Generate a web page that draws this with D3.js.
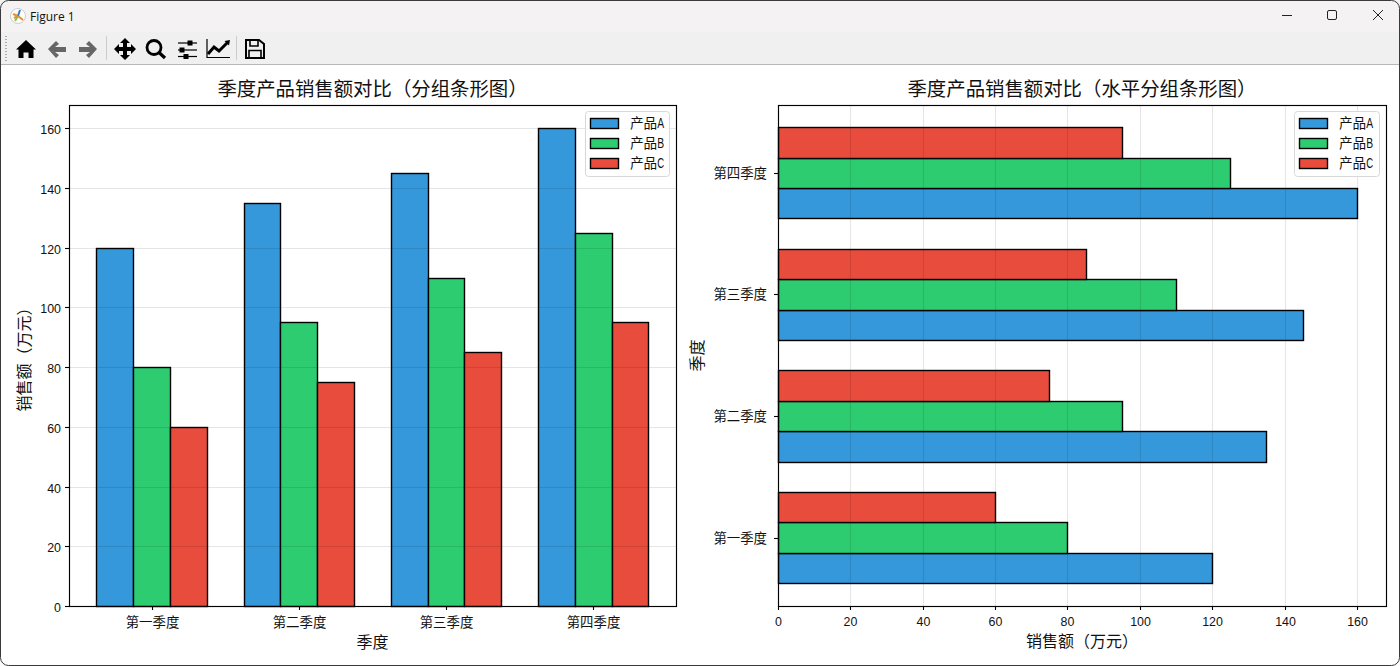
<!DOCTYPE html>
<html><head><meta charset="utf-8"><script src="https://cdn.jsdelivr.net/npm/d3@7"></script>
<style>html,body{margin:0;padding:0;background:#fff;overflow:hidden}svg{display:block}
text{font-family:"Noto Sans CJK SC","Liberation Sans",sans-serif;fill:#111}</style></head><body>
<svg id="c" width="1400" height="666"></svg>
<script>
const quarters=["第一季度","第二季度","第三季度","第四季度"];
const productNames=["产品A","产品B","产品C"];
const productA=[120,135,145,160];
const productB=[80,95,110,125];
const productC=[60,75,85,95];
const productColors=["#3498db","#2ecc71","#e74c3c"];
const valueTicks=[0,20,40,60,80,100,120,140,160];
const titles=["季度产品销售额对比（分组条形图）","季度产品销售额对比（水平分组条形图）"];
const axisNames=["季度","销售额（万元）"];
const series=[productA,productB,productC];
const barW=0.25, valueMax=168, posDomain=[-0.5625,3.5625];
const lat="'Liberation Sans',sans-serif";

const svg=d3.select("#c");
// window chrome
svg.append("rect").attr("width",1400).attr("height",32).attr("fill","#f4f2f2");
svg.append("rect").attr("y",32).attr("width",1400).attr("height",32).attr("fill","#f0f0f0");
svg.append("rect").attr("y",64).attr("width",1400).attr("height",1).attr("fill","#b8b8b8");
svg.append("rect").attr("x",.5).attr("y",.5).attr("width",1399).attr("height",665).attr("rx",8).attr("fill","none").attr("stroke","#3a3a3a");
svg.append("text").attr("x",30).attr("y",20.5).attr("font-size",12).style("font-family","'Open Sans',sans-serif").text("Figure 1");
const logo=svg.append("g").attr("transform","translate(18,16)");
logo.append("circle").attr("r",7.5).attr("fill","#fff").attr("stroke","#ccc");
[["#e8912d",-5,-2,0,0],["#e8912d",0,0,5,4],["#8bc34a",0,0,-3,5],["#3b78c4",0,0,2,-6],["#e8912d",-4,2,0,0]].forEach(l=>logo.append("line").attr("x1",l[1]).attr("y1",l[2]).attr("x2",l[3]).attr("y2",l[4]).attr("stroke",l[0]).attr("stroke-width",2));
// window buttons
const wb=svg.append("g").attr("fill","none").attr("stroke","#222").attr("stroke-width",1);
wb.append("line").attr("x1",1282).attr("x2",1292).attr("y1",15.5).attr("y2",15.5);
wb.append("rect").attr("x",1327.5).attr("y",10.5).attr("width",9).attr("height",9).attr("rx",1.5);
wb.append("path").attr("d","M1373 10L1383 20M1383 10L1373 20");
// toolbar
for(let y=36;y<62;y+=3)svg.append("rect").attr("x",5).attr("y",y).attr("width",2).attr("height",1).attr("fill","#aaa");
[106,236].forEach(x=>svg.append("rect").attr("x",x).attr("y",36).attr("width",1).attr("height",24).attr("fill","#ccc"));
const tb=svg.append("g");
tb.append("path").attr("d","M26 40L36 49.5L33.5 49.5L33.5 58L28.5 58L28.5 52.5L23.5 52.5L23.5 58L18.5 58L18.5 49.5L16 49.5Z").attr("fill","#000");
tb.append("path").attr("d","M48 49L56 41L59 44L55 47L66 47L66 52L55 52L59 55L56 58Z").attr("fill","#666");
tb.append("path").attr("d","M97 49L89 41L86 44L90 47L79 47L79 52L90 52L86 55L89 58Z").attr("fill","#666");
tb.append("path").attr("d","M125 38L130 43L127 43L127 47L131 47L131 44L136 49L131 54L131 51L127 51L127 55L130 55L125 60L120 55L123 55L123 51L119 51L119 54L114 49L119 44L119 47L123 47L123 43L120 43Z").attr("fill","#000");
tb.append("circle").attr("cx",154).attr("cy",47.5).attr("r",7).attr("fill","none").attr("stroke","#000").attr("stroke-width",2.8);
tb.append("line").attr("x1",159).attr("y1",52.5).attr("x2",165).attr("y2",58).attr("stroke","#000").attr("stroke-width",3.2);
[[178,197,43,190],[178,197,50,182],[178,197,56.5,186]].forEach(s=>{
 tb.append("line").attr("x1",s[0]).attr("x2",s[1]).attr("y1",s[2]).attr("y2",s[2]).attr("stroke","#000").attr("stroke-width",1.2);
 tb.append("rect").attr("x",s[3]-2.5).attr("y",s[2]-2.5).attr("width",5).attr("height",5).attr("fill","#000");
});
tb.append("path").attr("d","M207 39L207 57.5L230 57.5").attr("fill","none").attr("stroke","#000").attr("stroke-width",1.2);
tb.append("path").attr("d","M208 54L214 47L219 51L228 42").attr("fill","none").attr("stroke","#000").attr("stroke-width",3);
tb.append("path").attr("d","M224.5 41L230 40L229 45.5Z").attr("fill","#000");
tb.append("path").attr("d","M246 40L259 40L264 44L264 58L246 58Z").attr("fill","none").attr("stroke","#000").attr("stroke-width",2);
tb.append("path").attr("d","M250 41L250 46L258 46L258 41M249 57L249 50.5L261 50.5L261 57").attr("fill","none").attr("stroke","#000").attr("stroke-width",1.6);

const digitW=6.9;
function num(s,x,y,a){
  const t=String(s);
  return svg.append("text").attr("x",x).attr("y",y).attr("text-anchor",a).attr("font-size",13.5)
    .style("font-family",lat).attr("textLength",t.length*digitW).attr("lengthAdjust","spacingAndGlyphs").text(t);
}
function legend(x,w){
  const top=111,h=66;
  const g=svg.append("g");
  g.append("rect").attr("x",x+.5).attr("y",top+.5).attr("width",w-1).attr("height",h-1).attr("rx",3).attr("fill","#fff").attr("fill-opacity",.8).attr("stroke","#d8d8d8");
  productNames.forEach((n,i)=>{
    const y=top+7+i*20;
    g.append("rect").attr("x",x+5.5).attr("y",y+.5).attr("width",28).attr("height",10).attr("fill",productColors[i]).attr("stroke","#000").attr("stroke-width",1.4);
    const t=g.append("text").attr("x",x+45).attr("y",y+10).attr("font-size",13.6);
    t.append("tspan").text(n.slice(0,2));
    t.append("tspan").style("font-family",lat).style("font-size","15px").attr("textLength",digitW).attr("lengthAdjust","spacingAndGlyphs").text(n.slice(2));
  });
}
function frame(l,r,t,b){svg.append("rect").attr("x",l+.5).attr("y",t+.5).attr("width",r-l).attr("height",b-t).attr("fill","none").attr("stroke","#000").attr("stroke-width",1.15);}
function tick(x1,y1,x2,y2){svg.append("line").attr("x1",x1).attr("y1",y1).attr("x2",x2).attr("y2",y2).attr("stroke","#000").attr("stroke-width",1.1);}

// left
{
 const L=69,R=676,T=105,B=606;
 const xs=d3.scaleLinear().domain(posDomain).range([L-.2,R]);
 const ys=d3.scaleLinear().domain([0,valueMax]).range([B+.4,T]);
 const py=v=>Math.floor(ys(v));
 series.forEach((vals,s)=>svg.append("g").selectAll("rect").data(vals).join("rect")
  .attr("x",(d,i)=>Math.round(xs(i+(s-1)*barW-barW/2))+.5)
  .attr("width",(d,i)=>Math.round(xs(i+(s-1)*barW+barW/2))-Math.round(xs(i+(s-1)*barW-barW/2)))
  .attr("y",d=>py(d)+.5).attr("height",d=>B-py(d))
  .attr("fill",productColors[s]).attr("stroke","#000").attr("stroke-width",1.4));
 valueTicks.forEach(v=>{const y=py(v)+.5;
  svg.append("line").attr("x1",L).attr("x2",R).attr("y1",y).attr("y2",y).attr("stroke","#000").attr("stroke-opacity",.1).attr("stroke-width",1.1);
  tick(L-4,y,L,y);num(v,L-8,y+5,"end");});
 quarters.forEach((q,i)=>{const x=Math.round(xs(i))+.5;tick(x,B,x,B+4);
  svg.append("text").attr("x",x).attr("y",B+20.5).attr("text-anchor","middle").attr("font-size",13.4).text(q);});
 frame(L,R,T,B);
 svg.append("text").attr("x",(L+R)/2).attr("y",96).attr("text-anchor","middle").attr("font-size",19.4).text(titles[0]);
 svg.append("text").attr("x",(L+R)/2).attr("y",648).attr("text-anchor","middle").attr("font-size",16).text(axisNames[0]);
 svg.append("text").attr("transform",`translate(30,${(T+B)/2}) rotate(-90)`).attr("text-anchor","middle").attr("font-size",16).text(axisNames[1]);
 legend(585,85);
}
// right
{
 const L=778,R=1386,T=105,B=606;
 const xs=d3.scaleLinear().domain([0,valueMax]).range([L,L+607.8]);
 const ys=d3.scaleLinear().domain(posDomain).range([B-.05,T-.6]);
 series.forEach((vals,s)=>svg.append("g").selectAll("rect").data(vals).join("rect")
  .attr("x",L+.5).attr("width",d=>Math.round(xs(d))-L)
  .attr("y",(d,i)=>Math.round(ys(i+(s-1)*barW+barW/2))+.5)
  .attr("height",(d,i)=>Math.round(ys(i+(s-1)*barW-barW/2))-Math.round(ys(i+(s-1)*barW+barW/2)))
  .attr("fill",productColors[s]).attr("stroke","#000").attr("stroke-width",1.4));
 valueTicks.forEach(v=>{const x=Math.round(xs(v))+.5;
  svg.append("line").attr("x1",x).attr("x2",x).attr("y1",T).attr("y2",B).attr("stroke","#000").attr("stroke-opacity",.1).attr("stroke-width",1.1);
  tick(x,B,x,B+4);num(v,x,B+20,"middle");});
 quarters.forEach((q,i)=>{const y=Math.round(ys(i))+.5;tick(L-4,y,L,y);
  svg.append("text").attr("x",L-11).attr("y",y+4.5).attr("text-anchor","end").attr("font-size",13.4).text(q);});
 frame(L,R,T,B);
 svg.append("text").attr("x",(L+R)/2).attr("y",96).attr("text-anchor","middle").attr("font-size",19.4).text(titles[1]);
 svg.append("text").attr("x",(L+R)/2).attr("y",647).attr("text-anchor","middle").attr("font-size",16).text(axisNames[1]);
 svg.append("text").attr("transform",`translate(703,${(T+B)/2}) rotate(-90)`).attr("text-anchor","middle").attr("font-size",16).text(axisNames[0]);
 legend(1294,86);
}
</script></body></html>
